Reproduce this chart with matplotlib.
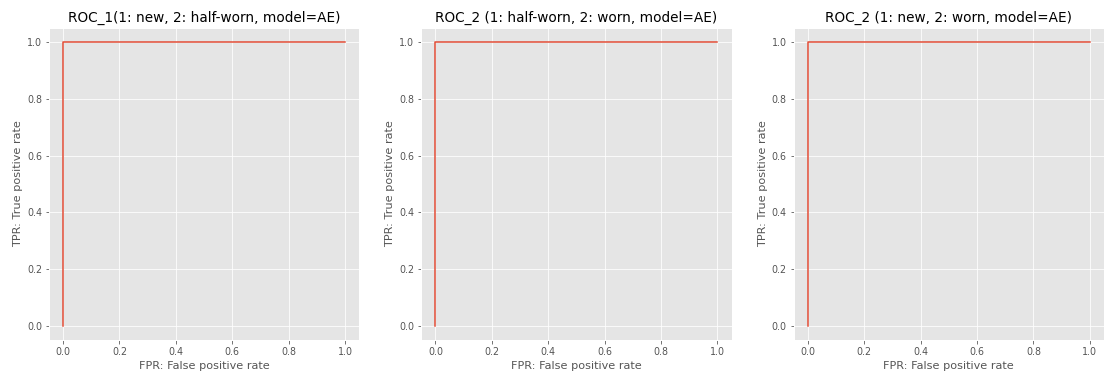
import matplotlib
matplotlib.use("Agg")
import matplotlib.pyplot as plt

plt.style.use("ggplot")

# ROC curves for the three class pairings
titles = [
    "ROC_1(1: new, 2: half-worn, model=AE)",
    "ROC_2 (1: half-worn, 2: worn, model=AE)",
    "ROC_2 (1: new, 2: worn, model=AE)",
]
fpr_1 = [0.0, 0.0, 1.0]
tpr_1 = [0.0, 1.0, 1.0]
fpr_2 = [0.0, 0.0, 1.0]
tpr_2 = [0.0, 1.0, 1.0]
fpr_3 = [0.0, 0.0, 1.0]
tpr_3 = [0.0, 1.0, 1.0]

curves = [(fpr_1, tpr_1), (fpr_2, tpr_2), (fpr_3, tpr_3)]

fig, axes = plt.subplots(1, 3, figsize=(1105 / 72, 371 / 72), dpi=72)
fig.subplots_adjust(left=0.0443, right=0.999, bottom=0.0836, top=0.9245, wspace=0.2)

for ax, title, (fpr, tpr) in zip(axes, titles, curves):
    ax.plot(fpr, tpr)
    ax.set_title(title, fontsize=13.6)
    ax.set_xlabel("FPR: False positive rate", fontsize=11.3)
    ax.set_ylabel("TPR: True positive rate", fontsize=11.3)
    ax.tick_params(labelsize=9.5)

fig.savefig("out.png", dpi=72)
plt.close(fig)
